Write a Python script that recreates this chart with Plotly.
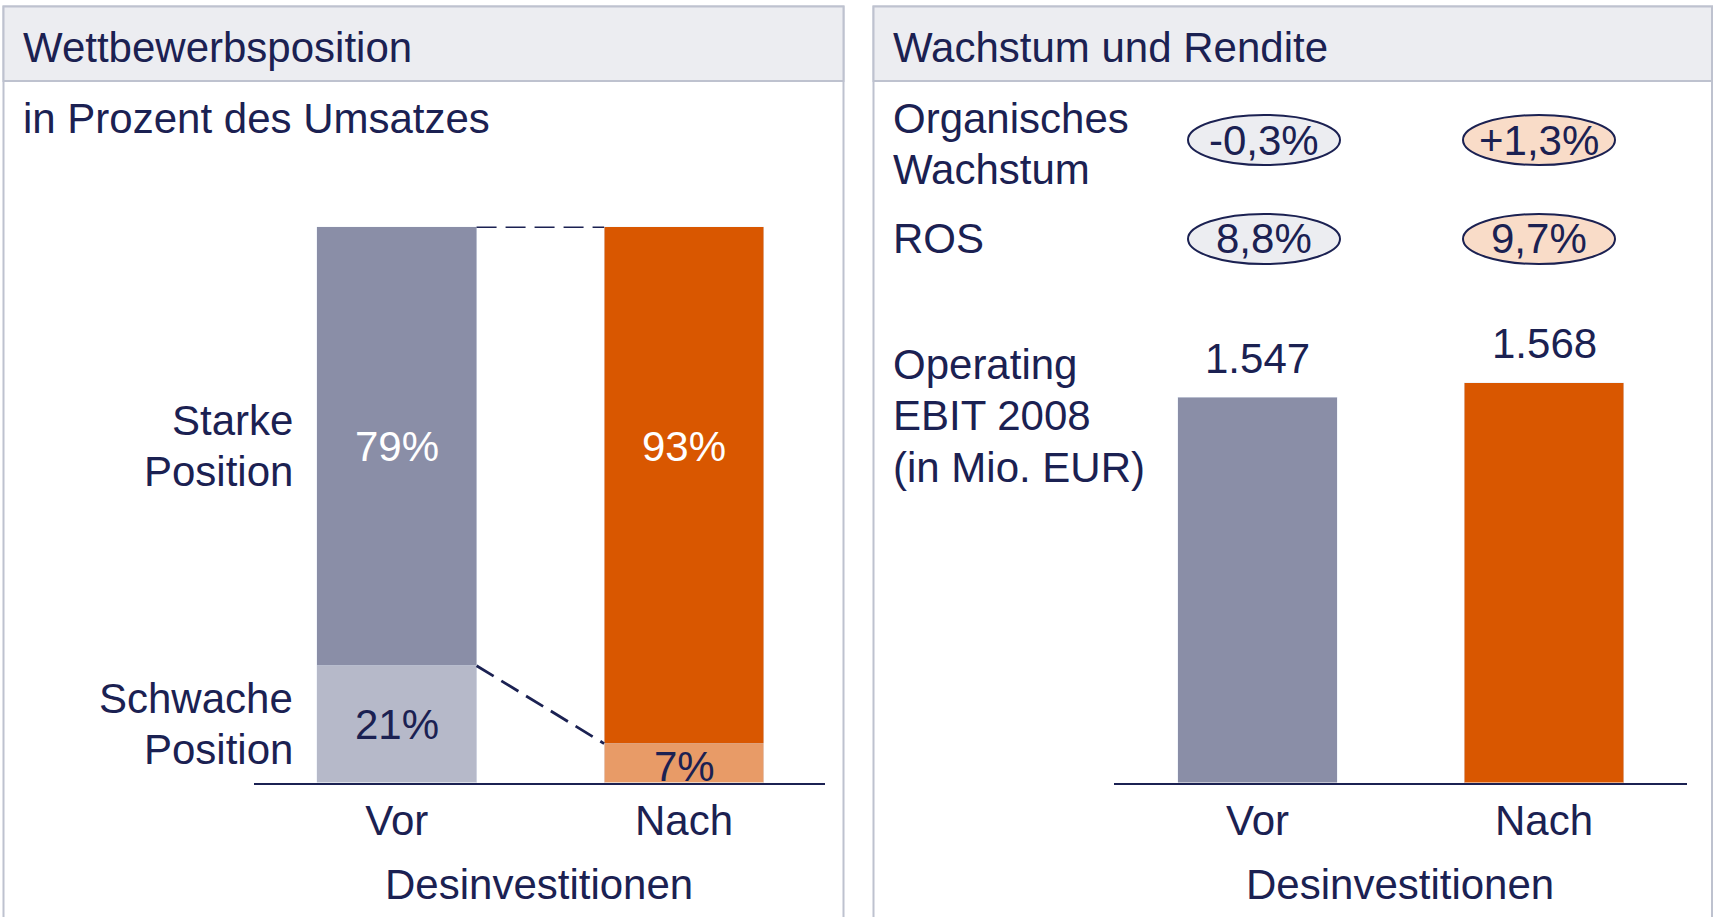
import plotly.graph_objects as go

# ---------------- data ----------------
categories = ["Vor", "Nach"]
strong_pct = [79, 93]          # Starke Position, % des Umsatzes
weak_pct = [21, 7]             # Schwache Position, % des Umsatzes
organic_growth = [-0.3, 1.3]   # Organisches Wachstum in %
ros = [8.8, 9.7]               # ROS in %
ebit = [1547, 1568]            # Operating EBIT 2008 in Mio. EUR

left_title = "Wettbewerbsposition"
left_subtitle = "in Prozent des Umsatzes"
right_title = "Wachstum und Rendite"
axis_title = "Desinvestitionen"
strong_label = ["Starke", "Position"]
weak_label = ["Schwache", "Position"]
growth_label = ["Organisches", "Wachstum"]
ros_label = ["ROS"]
ebit_label = ["Operating", "EBIT 2008", "(in Mio. EUR)"]

# ---------------- style ----------------
W, H = 1716, 917
FONT = "Arial, 'Liberation Sans', sans-serif"
FS = 42
LINE_H = 51.5
NAVY = "#1B2152"
VOR_STRONG = "#8A8EA7"
VOR_WEAK = "#B6B9C9"
NACH_STRONG = "#D95700"
NACH_WEAK = "#E89B67"
HEADER = "#ECEDF1"
BORDER = "#BEC2CF"
ELL_FILL = ["#ECEDF1", "#F9DCC8"]
BAR_W = 0.556


def px(x):
    return x / W


def py(y):
    return 1 - y / H


def de(v, fmt):
    return format(v, fmt).replace(",", "X").replace(".", ",").replace("X", ".")


fig = go.Figure()

# Left: stacked bars
fig.add_trace(go.Bar(x=categories, y=weak_pct, marker_color=[VOR_WEAK, NACH_WEAK],
                     width=BAR_W, xaxis="x", yaxis="y", hoverinfo="skip"))
fig.add_trace(go.Bar(x=categories, y=strong_pct, marker_color=[VOR_STRONG, NACH_STRONG],
                     width=BAR_W, xaxis="x", yaxis="y", hoverinfo="skip"))
# Right: EBIT bars
fig.add_trace(go.Bar(x=categories, y=ebit, marker_color=[VOR_STRONG, NACH_STRONG],
                     width=BAR_W, xaxis="x2", yaxis="y2", hoverinfo="skip"))

shapes = []
annotations = []

# Panels
for x0, x1 in [(3.5, 843.5), (873.5, 1712)]:
    shapes.append(dict(type="rect", xref="paper", yref="paper", x0=px(x0), x1=px(x1),
                       y0=py(940), y1=py(6.5), line=dict(color=BORDER, width=2),
                       fillcolor="rgba(0,0,0,0)", layer="below"))
    shapes.append(dict(type="rect", xref="paper", yref="paper", x0=px(x0), x1=px(x1),
                       y0=py(81), y1=py(6.5), line=dict(color=BORDER, width=2),
                       fillcolor=HEADER, layer="below"))


def text(x, y, s, xanchor="left", color=NAVY, xref="paper", yref="paper", yshift=0):
    annotations.append(dict(x=x, y=y, xref=xref, yref=yref, text=s, showarrow=False,
                            xanchor=xanchor, yanchor="middle", align="left",
                            font=dict(family=FONT, size=FS, color=color), yshift=yshift))


def lines(x, y, parts, xanchor="left", xref="paper", yref="paper"):
    n = len(parts)
    for i, s in enumerate(parts):
        off = (i - (n - 1) / 2) * LINE_H
        text(x, y, s, xanchor=xanchor, xref=xref, yref=yref, yshift=-off)


text(px(21), py(47), left_title)
text(px(891), py(47), right_title)
text(px(21), py(118), left_subtitle)

# Left bar labels
label_row = weak_pct[0] + strong_pct[0] / 2
for i, c in enumerate(categories):
    text(c, weak_pct[i] / 2, f"{weak_pct[i]}%", xanchor="center", xref="x", yref="y",
         yshift=-3 if weak_pct[i] < 10 else 0)
    text(c, label_row, f"{strong_pct[i]}%", xanchor="center",
         color="#FFFFFF", xref="x", yref="y")

lines(px(295), label_row, strong_label, xanchor="right", yref="y")
lines(px(295), weak_pct[0] / 2, weak_label, xanchor="right", yref="y")

# Dashed connectors
dash = "20px,9px"
shapes.append(dict(type="line", xref="x", yref="y", x0=0 + BAR_W / 2, x1=1 - BAR_W / 2,
                   y0=weak_pct[0] + strong_pct[0], y1=weak_pct[1] + strong_pct[1],
                   line=dict(color=NAVY, width=2.8, dash=dash)))
shapes.append(dict(type="line", xref="x", yref="y", x0=0 + BAR_W / 2, x1=1 - BAR_W / 2,
                   y0=weak_pct[0], y1=weak_pct[1],
                   line=dict(color=NAVY, width=2.8, dash=dash)))

# Right side row labels
lines(px(891), py(144), growth_label)
lines(px(891), py(239), ros_label)
lines(px(891), py(416), ebit_label)

# Ellipses with KPI values
ell_cx = [1264, 1539]
for i in range(2):
    for cy, s in [(140, de(organic_growth[i], "+.1f") + "%"), (239, de(ros[i], ".1f") + "%")]:
        shapes.append(dict(type="circle", xref="paper", yref="paper",
                           x0=px(ell_cx[i] - 76), x1=px(ell_cx[i] + 76),
                           y0=py(cy + 25), y1=py(cy - 25),
                           fillcolor=ELL_FILL[i], line=dict(color=NAVY, width=2)))
        text(px(ell_cx[i]), py(cy), s, xanchor="center")

# EBIT value labels
for i, c in enumerate(categories):
    text(c, ebit[i], de(ebit[i], ",d"), xanchor="center", xref="x2", yref="y2", yshift=39)

# Axis titles
text(px(539), py(884), axis_title, xanchor="center")
text(px(1400), py(884), axis_title, xanchor="center")

axis_common = dict(showgrid=False, zeroline=False, showline=True, linecolor=NAVY, linewidth=2,
                   ticks="", tickfont=dict(family=FONT, size=FS, color=NAVY), fixedrange=True)

fig.update_layout(
    width=W, height=H, margin=dict(l=0, r=0, t=0, b=0, pad=0),
    paper_bgcolor="white", plot_bgcolor="rgba(0,0,0,0)",
    barmode="stack", showlegend=False,
    font=dict(family=FONT, size=FS, color=NAVY),
    xaxis=dict(domain=[px(254), px(825)], range=[(254 - 396.7) / 287.3, (825 - 396.7) / 287.3],
               anchor="y", **axis_common),
    yaxis=dict(domain=[py(782.5), py(226.5)], range=[0, 100], visible=False, fixedrange=True),
    xaxis2=dict(domain=[px(1114), px(1687)], range=[(1114 - 1257.5) / 286.5, (1687 - 1257.5) / 286.5],
                anchor="y2", **axis_common),
    yaxis2=dict(domain=[py(782.5), py(226.5)], range=[980, 1798], visible=False, fixedrange=True),
    shapes=shapes, annotations=annotations,
)

fig.write_html("out.html", config=dict(displayModeBar=False))
